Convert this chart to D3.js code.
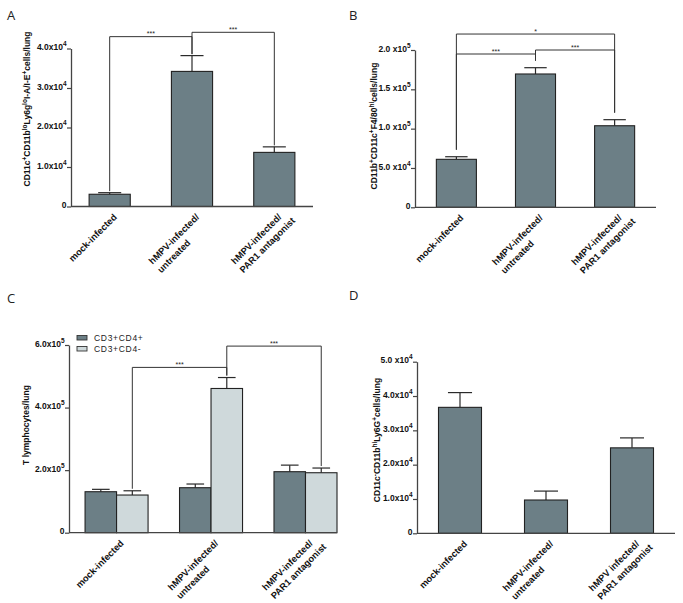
<!DOCTYPE html>
<html><head><meta charset="utf-8">
<script src="https://cdn.jsdelivr.net/npm/d3@7"></script>
<style>
body{margin:0;background:#fff}
svg{display:block}
text{font-family:"Liberation Sans",Arial,sans-serif}
</style>
</head><body>
<svg id="c" width="683" height="603"></svg>
<script>
// ---------- data ----------
const categories  = [["mock-infected"], ["hMPV-infected/", "untreated"], ["hMPV-infected/", "PAR1 antagonist"]];
const categoriesD = [["mock-infected"], ["hMPV-infected/", "untreated"], ["hMPV infected/", "PAR1 antagonist"]];

const meanA = [3100, 34200, 13700];
const semA  = [400, 4000, 1400];

const meanB = [61000, 169500, 103700];
const semB  = [3300, 8000, 7700];

const seriesC = ["CD3+CD4+", "CD3+CD4-"];
const meanC_CD4pos = [131000, 143800, 195000];
const semC_CD4pos  = [7600, 11800, 21000];
const meanC_CD4neg = [120400, 461000, 191700];
const semC_CD4neg  = [13600, 35000, 15000];

const meanD = [36700, 9700, 24900];
const semD  = [4300, 2600, 2900];

const ticksA = [0, 1e4, 2e4, 3e4, 4e4];
const tickLabelsA = [["0",""],["1.0x10","4"],["2.0x10","4"],["3.0x10","4"],["4.0x10","4"]];
const ticksB = [0, 5e4, 1e5, 1.5e5, 2e5];
const tickLabelsB = [["0",""],["5.0 x10","4"],["1.0 x10","5"],["1.5 x10","5"],["2.0 x10","5"]];
const ticksC = [0, 2e5, 4e5, 6e5];
const tickLabelsC = [["0",""],["2.0x10","5"],["4.0x10","5"],["6.0x10","5"]];
const ticksD = [0, 1e4, 2e4, 3e4, 4e4, 5e4];
const tickLabelsD = [["0",""],["1.0x10","4"],["2.0x10","4"],["3.0x10","4"],["4.0x10","4"],["5.0 x10","4"]];

const titleA = [["CD11c",""],["+","sup"],["CD11b",""],["lo","sup"],["Ly6g",""],["lo","sup"],["I-A/I-E",""],["+","sup"],["cells/lung",""]];
const titleB = [["CD11b",""],["+","sup"],["CD11c",""],["+","sup"],["F4/80",""],["hi","sup"],["cells/lung",""]];
const titleC = [["T lymphocytes/lung",""]];
const titleD = [["CD11c",""],["-","sup"],["CD11b",""],["hi","sup"],["Ly6G",""],["+","sup"],["cells/lung",""]];

// significance brackets: [group, series] endpoints, bracket level in data units
const bracketsA = [{from:[0,0], to:[1,0], level:43000, label:"***"}, {from:[1,0], to:[2,0], level:44100, label:"***"}];
const bracketsB = [{from:[0,0], to:[2,0], level:220300, label:"*"}, {from:[0,0], to:[1,0], level:194900, label:"***"}, {from:[1,0], to:[2,0], level:200000, label:"***"}];
const bracketsC = [{from:[0,1], to:[1,1], level:528400, label:"***"}, {from:[1,1], to:[2,1], level:596500, label:"***"}];

// ---------- drawing ----------
const DARK = "#6c7f86", LIGHT = "#cfd9db";
const svg = d3.select("#c");

function drawPanel(cfg) {
  const g = svg.append("g");
  const y = d3.scaleLinear().domain([0, cfg.max]).range([cfg.yBottom, cfg.yTop]);
  const x = d3.scaleBand().domain(d3.range(cfg.cats.length)).range([cfg.x0, cfg.x1])
    .paddingInner(cfg.pi).paddingOuter(cfg.po).align(cfg.align == null ? 0.5 : cfg.align);
  const xs = d3.scaleBand().domain(d3.range(cfg.series.length)).range([0, x.bandwidth()]);
  const bw = xs.bandwidth();
  const cxOf = (i, si) => x(i) + xs(si) + bw / 2;
  const topOf = (i, si) => cfg.series[si].mean[i] + cfg.series[si].sem[i];

  // bars + error bars
  cfg.series.forEach((s, si) => {
    const data = s.mean.map((m, i) => ({m, e: s.sem[i], i}));
    const eg = g.append("g").attr("stroke", "#2a2a2a").attr("stroke-width", 1.2);
    eg.selectAll(null).data(data).join("line")
      .attr("x1", d => cxOf(d.i, si)).attr("x2", d => cxOf(d.i, si))
      .attr("y1", d => y(d.m)).attr("y2", d => y(d.m + d.e));
    eg.selectAll(null).data(data).join("line")
      .attr("x1", d => cxOf(d.i, si) - bw * 0.28).attr("x2", d => cxOf(d.i, si) + bw * 0.28)
      .attr("y1", d => y(d.m + d.e)).attr("y2", d => y(d.m + d.e));
    g.selectAll(null).data(data).join("rect")
      .attr("x", d => x(d.i) + xs(si)).attr("y", d => y(d.m))
      .attr("width", bw).attr("height", d => y(0) - y(d.m))
      .attr("fill", s.color).attr("stroke", "#222").attr("stroke-width", 1.1);
  });

  // y axis
  const ga = g.append("g").attr("transform", `translate(${cfg.x0},0)`)
    .call(d3.axisLeft(y).tickValues(cfg.ticks).tickSize(4).tickSizeOuter(0).tickPadding(0.5));
  ga.attr("font-family", null).attr("font-size", null);
  ga.select(".domain").attr("stroke", "#444").attr("stroke-width", 1.3);
  ga.selectAll(".tick line").attr("stroke", "#444").attr("stroke-width", 1.2);
  ga.selectAll(".tick text").each(function(d, i) {
    const t = d3.select(this).text(null).attr("dy", "0.15em")
      .attr("font-size", 8.5).attr("font-weight", "bold").attr("fill", "#111");
    const [m, e] = cfg.tickLabels[i];
    t.append("tspan").text(m);
    if (e) t.append("tspan").attr("dy", -4).attr("font-size", 6.5).text(e);
  });

  // x axis line
  g.append("line").attr("x1", cfg.x0).attr("x2", cfg.x1).attr("y1", y(0)).attr("y2", y(0))
    .attr("stroke", "#444").attr("stroke-width", 1.3);

  // x labels
  cfg.cats.forEach((lines, i) => {
    const cx = x(i) + x.bandwidth() / 2;
    const t = g.append("text")
      .attr("transform", `translate(${cx + 3},${y(0) + 6.5}) rotate(-45)`)
      .attr("font-size", 9.3).attr("font-weight", "bold").attr("fill", "#111");
    const spans = lines.map((l, j) => t.append("tspan").attr("x", 0)
      .attr("dy", j === 0 ? "0.72em" : "1.3em").text(l));
    const w = spans[0].node().getComputedTextLength();
    spans.forEach(s => s.attr("x", -w));
  });

  // y title
  const tt = g.append("text")
    .attr("transform", `translate(${cfg.titleX},${cfg.titleY}) rotate(-90)`)
    .attr("text-anchor", "middle").attr("font-size", 8.5).attr("font-weight", "bold").attr("fill", "#111");
  let cur = 0;
  cfg.title.forEach(([s, type]) => {
    const target = type === "sup" ? -3.5 : 0;
    const sp = tt.append("tspan").text(s);
    if (target !== cur) sp.attr("dy", target - cur);
    if (type === "sup") sp.attr("font-size", 6.5);
    cur = target;
  });

  // significance brackets
  (cfg.brackets || []).forEach(b => {
    const xa = cxOf(b.from[0], b.from[1]), xb = cxOf(b.to[0], b.to[1]);
    const ly = y(b.level);
    const ya = y(topOf(b.from[0], b.from[1])) - cfg.gap;
    const yb = y(topOf(b.to[0], b.to[1])) - cfg.gap;
    g.append("path").attr("d", `M${xa},${ya}V${ly}H${xb}V${yb}`)
      .attr("fill", "none").attr("stroke", "#333").attr("stroke-width", 1);
    g.append("text").attr("x", (xa + xb) / 2).attr("y", ly - 0.5)
      .attr("text-anchor", "middle").attr("font-size", 7).attr("fill", "#222").text(b.label);
  });

  // panel letter
  g.append("text").attr("x", cfg.letterX).attr("y", cfg.letterY)
    .style("font-family", "'Open Sans', sans-serif").attr("font-size", 13).attr("fill", "#222").text(cfg.letter);

  return {g, x, xs, y};
}

drawPanel({
  letter: "A", letterX: 7, letterY: 19.5,
  cats: categories, series: [{mean: meanA, sem: semA, color: DARK}],
  max: 4e4, yBottom: 206.5, yTop: 48.5, ticks: ticksA, tickLabels: tickLabelsA,
  x0: 71, x1: 313, pi: 0.5, po: 0.22,
  title: titleA, titleX: 30, titleY: 109,
  brackets: bracketsA, gap: 1.5
});

drawPanel({
  letter: "B", letterX: 349, letterY: 19.5,
  cats: categories, series: [{mean: meanB, sem: semB, color: DARK}],
  max: 2e5, yBottom: 207.3, yTop: 50, ticks: ticksB, tickLabels: tickLabelsB,
  x0: 415, x1: 656, pi: 0.494, po: 0.27,
  title: titleB, titleX: 377, titleY: 126,
  brackets: bracketsB, gap: 7
});

const pC = drawPanel({
  letter: "C", letterX: 7, letterY: 303,
  cats: categories,
  series: [{mean: meanC_CD4pos, sem: semC_CD4pos, color: DARK}, {mean: meanC_CD4neg, sem: semC_CD4neg, color: LIGHT}],
  max: 6e5, yBottom: 532.7, yTop: 345, ticks: ticksC, tickLabels: tickLabelsC,
  x0: 69, x1: 337, pi: 0.333, po: 0.085, align: 1,
  title: titleC, titleX: 28.5, titleY: 425,
  brackets: bracketsC, gap: 2
});

// legend for C
const leg = pC.g.append("g");
seriesC.forEach((name, i) => {
  leg.append("rect").attr("x", 77).attr("y", 335.5 + i * 11).attr("width", 10).attr("height", 4.5)
    .attr("fill", i === 0 ? DARK : LIGHT).attr("stroke", "#333").attr("stroke-width", 0.9);
  leg.append("text").attr("x", 94).attr("y", 341 + i * 10.5).attr("font-size", 8.5)
    .attr("letter-spacing", 0.7).attr("fill", "#222").text(name);
});

drawPanel({
  letter: "D", letterX: 349, letterY: 300,
  cats: categoriesD, series: [{mean: meanD, sem: semD, color: DARK}],
  max: 5e4, yBottom: 533.3, yTop: 361.7, ticks: ticksD, tickLabels: tickLabelsD,
  x0: 417, x1: 675, pi: 0.5, po: 0.25,
  title: titleD, titleX: 380, titleY: 440,
  brackets: [], gap: 2
});
</script>
</body></html>
